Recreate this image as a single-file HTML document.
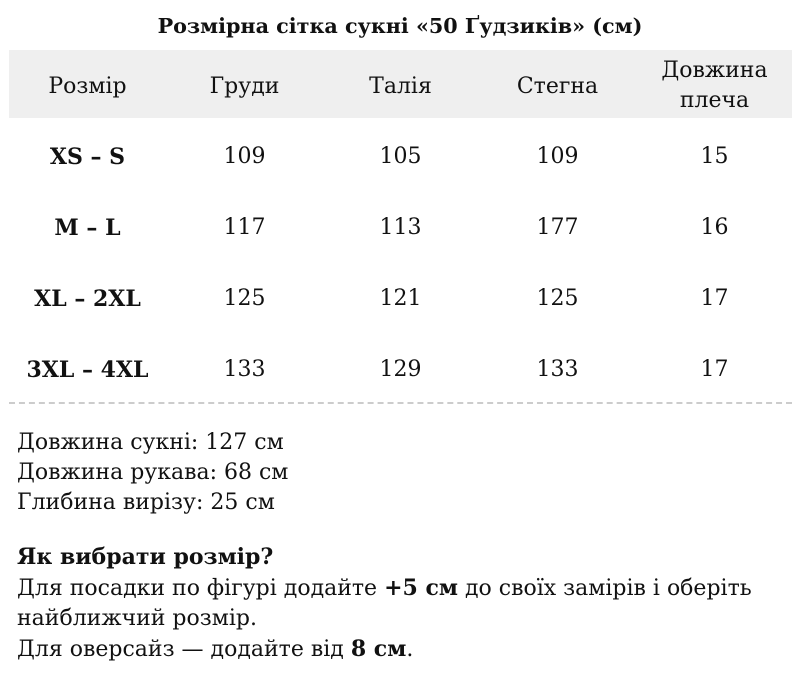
<!DOCTYPE html>
<html><head><meta charset="utf-8"><style>
body{margin:0;width:800px;height:673px;background:#fff;font-family:"DejaVu Serif","Liberation Serif",serif;color:#111;position:relative;overflow:hidden}
.a{position:absolute;white-space:nowrap}
.title{left:0;width:800px;text-align:center;top:14px;font-weight:bold;font-size:20.7px}
.band{position:absolute;left:9px;top:50px;width:783px;height:68px;background:#efefef}
.c{position:absolute;width:157px;text-align:center;font-size:22px;line-height:30px;white-space:nowrap}
.b{font-weight:bold}
.dash{position:absolute;left:9px;top:402px;width:783px;border-top:2px dashed #ccc}
.txt{position:absolute;left:17px;font-size:22px;line-height:30px;white-space:nowrap}
</style></head><body>
<div class="a title">Розмірна сітка сукні «50 Ґудзиків» (см)</div>
<div class="band"></div>
<div class="c" style="left:9px;top:72px">Розмір</div>
<div class="c" style="left:166px;top:72px">Груди</div>
<div class="c" style="left:322px;top:72px">Талія</div>
<div class="c" style="left:479px;top:72px">Стегна</div>
<div class="c" style="left:636px;top:56px">Довжина<br>плеча</div>

<div class="c b" style="left:9px;top:142px">XS – S</div>
<div class="c" style="left:166px;top:142px">109</div>
<div class="c" style="left:322px;top:142px">105</div>
<div class="c" style="left:479px;top:142px">109</div>
<div class="c" style="left:636px;top:142px">15</div>

<div class="c b" style="left:9px;top:213px">M – L</div>
<div class="c" style="left:166px;top:213px">117</div>
<div class="c" style="left:322px;top:213px">113</div>
<div class="c" style="left:479px;top:213px">177</div>
<div class="c" style="left:636px;top:213px">16</div>

<div class="c b" style="left:9px;top:284px">XL – 2XL</div>
<div class="c" style="left:166px;top:284px">125</div>
<div class="c" style="left:322px;top:284px">121</div>
<div class="c" style="left:479px;top:284px">125</div>
<div class="c" style="left:636px;top:284px">17</div>

<div class="c b" style="left:9px;top:355px">3XL – 4XL</div>
<div class="c" style="left:166px;top:355px">133</div>
<div class="c" style="left:322px;top:355px">129</div>
<div class="c" style="left:479px;top:355px">133</div>
<div class="c" style="left:636px;top:355px">17</div>

<div class="dash"></div>
<div class="txt" style="top:428px">Довжина сукні: 127 см<br>Довжина рукава: 68 см<br>Глибина вирізу: 25 см</div>
<div class="txt" style="top:542px"><b>Як вибрати розмір?</b><br>Для посадки по фігурі додайте <b>+5 см</b> до своїх замірів і оберіть<br>найближчий розмір.<br>Для оверсайз — додайте від <b>8 см</b>.</div>
</body></html>
